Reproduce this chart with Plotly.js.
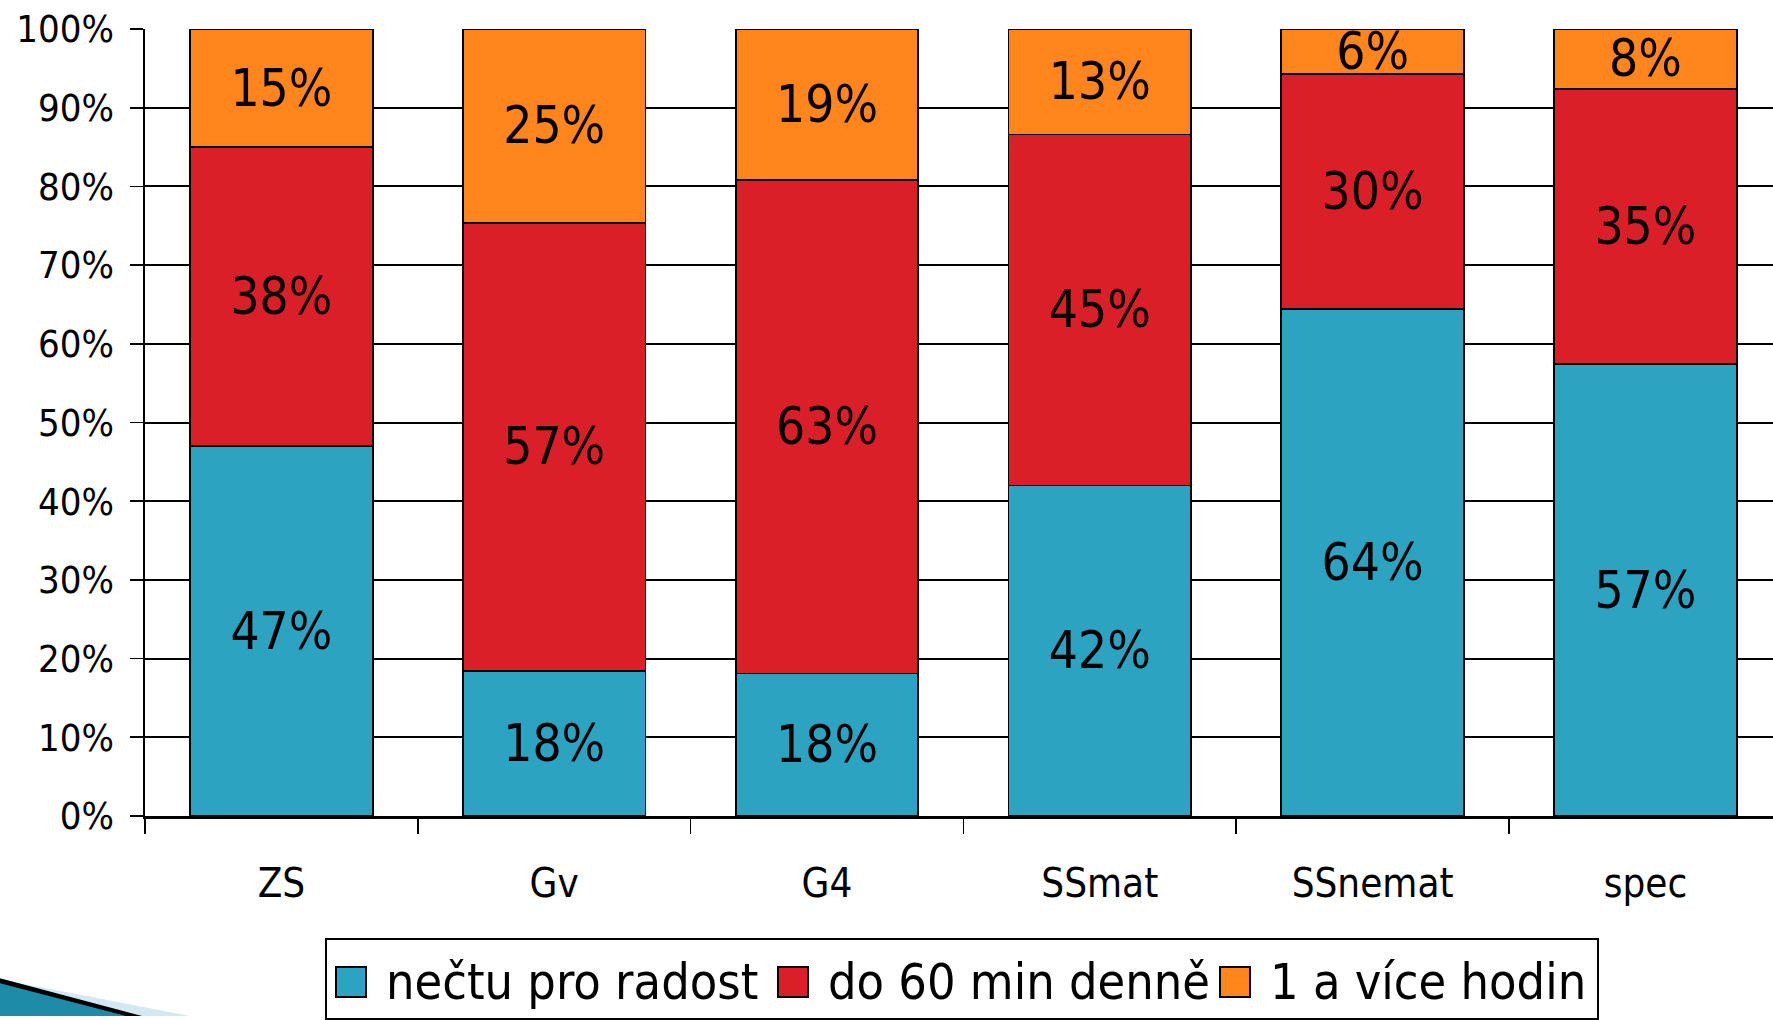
<!DOCTYPE html>
<html>
<head>
<meta charset="utf-8">
<script src="https://cdn.plot.ly/plotly-3.0.1.min.js"></script>
<style>
  html, body { margin: 0; padding: 0; background: #ffffff; }
  #chart { width: 1773px; height: 1020px; }
</style>
</head>
<body>
<div id="chart"></div>
<script>
// ---- data ----
const categories = ["ZS", "Gv", "G4", "SSmat", "SSnemat", "spec"];
const seriesNames = ["nečtu pro radost", "do 60 min denně", "1 a více hodin"];
const nectuProRadost = [47.0, 18.4, 18.1, 42.0, 64.4, 57.4];
const do60MinDenne   = [38.0, 57.0, 62.7, 44.6, 29.9, 35.0];
const viceHodin      = [15.0, 24.6, 19.2, 13.4, 5.7, 7.6];
const yTickValues = [0, 10, 20, 30, 40, 50, 60, 70, 80, 90, 100];
const yTickLabels = ["0%", "10%", "20%", "30%", "40%", "50%", "60%", "70%", "80%", "90%", "100%"];

// ---- styling ----
const colors = ["#2CA3C0", "#DA1F28", "#FF851C"];
const FONT = "'DejaVu Sans Condensed', 'DejaVu Sans', Verdana, sans-serif";

const W = 1773, H = 1020;
const ML = 145, MT = 29, MB = 200, MR = 0;
const plotW = W - ML - MR, plotH = H - MT - MB;
const catW = 272.8;

const seriesValues = [nectuProRadost, do60MinDenne, viceHodin];
const traces = seriesValues.map((vals, i) => ({
  type: "bar",
  name: seriesNames[i],
  x: categories,
  y: vals,
  marker: { color: colors[i], line: { color: "#000000", width: 1.8 } },
  texttemplate: "%{y:.0f}%",
  textposition: "inside",
  insidetextanchor: "middle",
  constraintext: "none",
  textfont: { family: FONT, size: 51, color: "#000000" },
  hoverinfo: "x+y+name"
}));

// helpers for decoration (pixel -> paper)
const px = x => (x - ML) / plotW;
const py = y => (H - MB - y) / plotH;
function poly(pts) {
  return "M" + pts.map(p => px(p[0]).toFixed(5) + "," + py(p[1]).toFixed(5)).join(" L") + " Z";
}

const layout = {
  width: W, height: H,
  margin: { l: ML, r: MR, t: MT, b: MB, pad: 0 },
  paper_bgcolor: "#ffffff",
  plot_bgcolor: "#ffffff",
  barmode: "stack",
  bargap: 0.33,
  showlegend: true,
  font: { family: FONT, color: "#000000" },
  xaxis: {
    type: "category",
    range: [-0.5, -0.5 + plotW / catW],
    showline: true, linecolor: "#000000", linewidth: 3,
    ticks: "outside", tickson: "boundaries", ticklen: 15, tickwidth: 1.8, tickcolor: "#000000",
    ticklabelstandoff: 30,
    tickfont: { family: FONT, size: 40, color: "#000000" },
    showgrid: false, zeroline: false, fixedrange: true
  },
  yaxis: {
    range: [0, 100],
    tickmode: "array",
    tickvals: yTickValues,
    ticktext: yTickLabels,
    showline: true, linecolor: "#000000", linewidth: 2.5,
    ticks: "outside", ticklen: 13, tickwidth: 1.8, tickcolor: "#000000",
    ticklabelstandoff: 8,
    tickfont: { family: FONT, size: 38, color: "#000000" },
    showgrid: true, gridcolor: "#000000", gridwidth: 2,
    zeroline: false, fixedrange: true
  },
  legend: {
    orientation: "h",
    x: px(325), y: py(943),
    xanchor: "left", yanchor: "top",
    bordercolor: "#000000", borderwidth: 2,
    bgcolor: "#ffffff",
    font: { family: FONT, size: 50, color: "#000000" },
    itemwidth: 49,
    entrywidth: 378,
    entrywidthmode: "pixels",
    traceorder: "normal",
    tracegroupgap: 0
  },
  shapes: [
    { type: "path", xref: "paper", yref: "paper", layer: "above",
      path: poly([[0, 984], [190, 1021], [0, 1021]]), fillcolor: "#D3E9F1", line: { width: 0 } },
    { type: "path", xref: "paper", yref: "paper", layer: "above",
      path: poly([[0, 983], [142, 1021], [0, 1021]]), fillcolor: "#000000", line: { width: 0 } },
    { type: "path", xref: "paper", yref: "paper", layer: "above",
      path: poly([[0, 988], [126, 1021], [0, 1021]]), fillcolor: "#1E8CA9", line: { width: 0 } }
  ]
};

Plotly.newPlot("chart", traces, layout, { displayModeBar: false, staticPlot: true }).then(gd => {
  // enlarge legend swatches to match the reference
  gd.querySelectorAll(".legend .legendpoints path").forEach(p => {
    p.setAttribute("transform", "translate(24,3) scale(2.5)");
    p.style.strokeWidth = "0.8px";
  });
  // trim legend box so it ends right after the last entry, as in the reference
  const bg = gd.querySelector(".legend rect.bg");
  if (bg) {
    const w = parseFloat(bg.getAttribute("width"));
    bg.setAttribute("width", Math.max(0, w - 56));
  }
});
</script>
</body>
</html>
